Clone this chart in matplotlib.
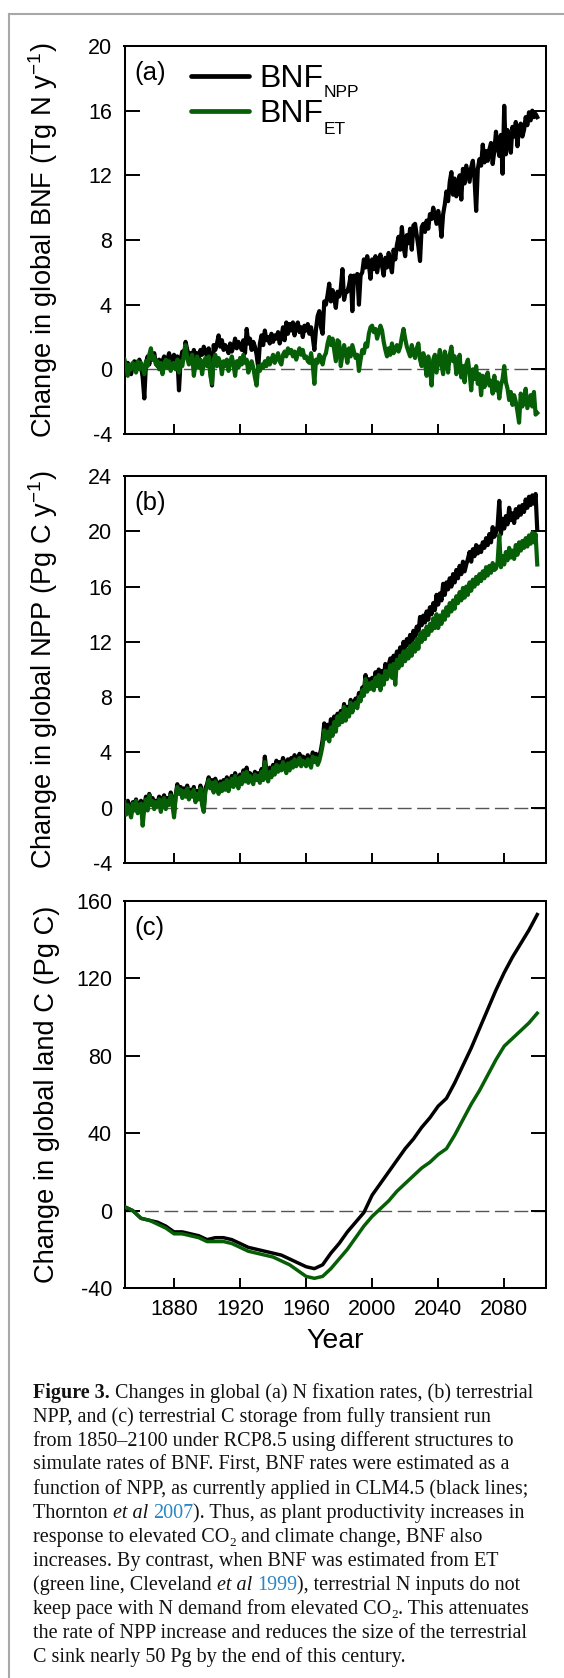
import matplotlib
matplotlib.use('Agg')
import matplotlib.pyplot as plt
from matplotlib.lines import Line2D

plt.rcParams['font.family'] = ['Liberation Sans', 'DejaVu Sans']
plt.rcParams['mathtext.fontset'] = 'custom'
plt.rcParams['mathtext.rm'] = 'Liberation Sans'
plt.rcParams['mathtext.it'] = 'Liberation Sans:italic'
plt.rcParams['mathtext.bf'] = 'Liberation Sans:bold'
plt.rcParams['axes.unicode_minus'] = False

# ---------------- data ----------------
years = list(range(1850, 2101))

bnf_npp = [
    0.3, 0.0, 0.4, 0.1, -0.3, 0.2, 0.5, 0.0, 0.3, 0.6,
    0.2, -0.5, -1.8, 0.4, 0.8, 0.3, 0.9, 0.6, 1.0, 0.4,
    0.2, 0.6, 0.3, 0.5, 0.8, 0.4, 0.6, 1.0, 0.5, 0.7,
    0.9, 0.4, 0.8, -1.3, 0.6, 1.1, 0.8, 1.7, 1.2, 0.9,
    1.0, 0.6, 1.2, 0.8, 1.0, 0.7, 1.2, 0.9, 1.4, 1.1,
    0.8, 1.3, 0.5, -1.0, 1.5, 1.2, 1.6, 2.1, 1.4, 1.8,
    1.2, 1.5, 1.3, 1.0, 1.6, 1.1, 1.4, 1.9, 1.3, 1.7,
    1.5, 1.2, 1.8, 1.0, 2.5, 1.6, 1.9, 1.2, 1.7, 1.4,
    0.9, 0.1, 1.6, 2.1, 1.5, 2.4, 1.8, 2.0, 1.6, 2.2,
    1.7, 2.1, 1.9, 2.3, 1.6, 2.0, 2.6, 1.8, 2.9, 2.2,
    2.8, 2.4, 2.9, 2.1, 2.7, 2.9, 2.3, 2.6, 2.0, 2.7,
    2.4, 2.8, 2.2, 2.6, 2.0, 1.2, 2.5, 3.3, 3.6, 2.6,
    2.2, 4.2, 4.0, 4.6, 5.3, 4.2, 4.9, 4.4, 3.8, 4.8,
    4.5, 5.0, 6.2, 4.3, 4.8, 4.8, 5.2, 5.8, 3.6, 5.8,
    5.5, 5.9, 4.0, 5.8, 6.0, 6.8, 6.3, 7.0, 6.5, 5.6,
    6.8, 6.2, 7.0, 6.0, 6.6, 7.1, 6.4, 5.8, 6.9, 6.3,
    7.2, 6.5, 6.0, 7.4, 6.8, 7.7, 8.2, 7.4, 8.8, 7.6,
    7.0, 8.3, 7.8, 8.7, 7.4, 8.9, 9.0, 8.3, 7.6, 6.7,
    8.8, 9.0, 8.5, 9.2, 8.7, 9.6, 9.3, 10.0, 9.5, 9.0,
    9.8, 9.2, 8.2, 9.6, 10.2, 11.0, 10.4, 11.6, 12.2, 10.8,
    11.8, 10.7, 11.3, 12.0, 10.5, 12.4, 11.5, 12.6, 12.1, 11.6,
    12.5, 12.9, 11.8, 9.8, 12.4, 13.0, 12.6, 13.9, 12.8, 13.5,
    12.9, 13.6, 14.0, 12.7, 13.5, 14.7, 13.8, 13.2, 14.5, 12.1,
    16.3, 13.3, 14.8, 14.2, 13.4, 15.0, 14.4, 15.3, 13.8, 15.0,
    15.2, 14.4, 14.8, 15.6, 15.1, 15.9, 15.4, 16.0, 15.6, 15.8,
    15.6,
]

bnf_et = [
    0.6, 0.2, -0.4, 0.3, 0.0, 0.4, 0.2, -0.2, 0.5, 0.0,
    0.4, 0.1, -0.3, 0.5, 0.2, 0.9, 1.3, 0.6, 0.8, 0.3,
    0.5, 0.0, 0.4, -0.3, 0.3, 0.6, 0.1, 0.5, -0.1, 0.3,
    0.4, 0.0, 0.6, -0.2, 0.5, 0.2, 0.9, 1.5, 0.7, 0.3,
    0.5, 0.9, -0.4, 0.3, 0.8, 0.1, 0.6, -0.3, 0.4, 0.7,
    0.2, 0.8, -0.4, -0.9, 0.6, 0.9, 0.2, 0.7, 0.4, -0.3,
    0.5, 0.2, 0.6, -0.1, 0.4, 0.8, 0.3, -0.4, 0.5, 0.1,
    0.7, 0.3, 0.9, 0.4, 0.6, -0.2, 0.3, 0.5, 0.1, -0.5,
    -1.0, 0.2, -0.1, 0.3, 0.1, 0.5, 0.2, 0.7, 0.3, 0.6,
    0.9, 0.4, 0.7, 1.0, 0.5, 0.3, 0.9, 1.1, 0.8, 1.3,
    1.0, 1.2, 0.8, 1.1, 0.6, 1.0, 1.3, 0.9, 1.2, 0.7,
    0.8, 0.5, 0.4, 1.0, 0.3, -0.9, 0.6, 0.4, 0.9, 0.7,
    0.3, 0.8, 1.0, 1.6, 2.0, 1.5, 1.9, 1.2, 0.5, 1.8,
    1.7, 0.2, 0.9, 1.5, 1.0, 0.4, 1.3, 0.8, 1.5, 1.1,
    0.7, 0.9, -0.1, 0.6, 1.2, 1.0, 1.6, 1.4, 2.2, 2.6,
    2.7, 2.3, 2.5, 1.9, 2.3, 2.7, 2.4, 1.7, 1.2, 0.8,
    1.3, 0.9, 1.6, 1.0, 1.2, 1.5, 1.1, 1.4, 2.0, 2.5,
    1.9, 1.4, 1.1, 0.8, 1.5, 1.0, 0.7, 1.3, 1.6, 0.6,
    0.2, 1.0, 0.4, -0.4, 0.8, 0.1, -1.0, 0.6, 0.9, -0.2,
    0.5, 1.2, 0.3, -0.3, 1.1, 0.6, -0.2, 0.9, 1.4, 0.5,
    0.8, -0.3, 0.4, 0.9, -0.5, 0.2, -0.8, 0.3, 0.6, -0.2,
    -1.3, 0.0, -0.6, 0.2, -0.9, -0.3, -1.6, -0.4, -1.1, -0.5,
    -0.2, -1.0, -0.7, -1.5, -0.4, -1.3, -0.8, -1.8, -1.0, -0.6,
    0.2, -0.8, -1.2, -1.9, -1.4, -2.2, -1.6, -2.0, -2.6, -3.3,
    -1.5, -2.3, -1.8, -1.2, -2.4, -2.0, -1.6, -2.3, -1.4, -2.8,
    -2.7,
]

npp_bnfnpp = [
    0.3, -0.3, 0.5, 0.0, -0.5, 0.4, 0.1, 0.6, -0.2, 0.3,
    0.5, -0.6, 0.2, 0.8, 0.1, 1.0, 0.4, 0.7, 0.2, 0.5,
    0.3, 0.8, 0.1, 0.6, 0.9, 0.2, 0.7, 0.4, 1.1, 0.5,
    -0.4, 0.9, 1.7, 1.2, 1.5, 0.9, 1.4, 1.0, 1.6, 0.8,
    1.3, 1.0, 1.5, 0.7, 1.2, 0.9, 1.6, 0.5, 0.0, 1.4,
    1.7, 2.2, 1.6, 2.0, 1.4, 2.1, 1.7, 1.3, 1.9, 1.5,
    2.0, 1.6, 2.2, 1.4, 1.9, 2.3, 1.7, 2.5, 2.0, 1.6,
    2.4, 2.0, 2.7, 2.2, 2.9, 2.1, 2.5, 2.3, 2.0, 2.6,
    2.2, 2.5, 2.1, 2.8, 2.3, 3.7, 2.6, 2.2, 2.9, 2.5,
    3.1, 2.7, 3.4, 2.9, 3.3, 3.0, 3.6, 3.2, 2.8, 3.5,
    3.0, 3.6, 3.2, 3.8, 3.3, 3.5, 3.9, 3.4, 3.7, 3.6,
    3.3, 3.8, 3.5, 3.2, 4.0, 3.6, 3.9, 3.4, 3.7, 4.2,
    4.9, 6.1, 5.5, 6.0, 5.3, 6.4, 5.8, 6.6, 6.0, 6.8,
    6.3, 7.0, 6.5, 7.5, 6.6, 7.3, 6.9, 7.8, 7.2, 7.6,
    7.9, 7.5, 8.3, 8.0, 8.7, 8.4, 9.6, 8.8, 9.3, 9.0,
    9.4, 8.9, 9.8, 9.2, 10.0, 9.5, 9.9, 9.4, 10.4, 9.9,
    10.3, 10.8, 10.4, 11.0, 10.6, 11.3, 10.9, 11.6, 11.1, 12.0,
    11.5, 12.2, 11.8, 12.5, 12.0, 12.8, 12.3, 13.1, 12.6, 13.8,
    13.2, 13.9, 13.4, 14.2, 13.6, 14.5, 14.0, 14.8, 14.3, 15.4,
    14.7, 15.5, 15.0, 16.2, 15.4, 16.3, 15.8, 16.6, 16.0, 16.9,
    16.3, 17.2, 16.6, 17.5, 16.9, 17.8, 17.1, 17.6, 18.0, 18.5,
    17.8, 18.7, 18.2, 19.0, 18.4, 18.9, 18.5, 19.2, 18.8, 19.5,
    19.0, 19.8, 19.2, 20.3, 19.6, 19.9, 20.4, 22.2, 19.8, 20.9,
    20.2, 21.1, 20.5, 21.7, 20.8, 21.3, 20.6, 21.6, 21.0, 21.8,
    21.2, 21.9, 21.4, 22.3, 21.7, 22.5, 21.9, 22.6, 22.0, 22.7,
    20.1,
]

npp_bnfet = [
    0.4, -0.5, 0.2, -0.3, -0.7, 0.3, -0.2, 0.5, -0.4, 0.1,
    0.3, -1.3, 0.0, 0.6, -0.2, 0.9, 0.2, 0.5, -0.1, 0.4,
    0.1, 0.6, -0.3, 0.4, 0.7, -0.1, 0.5, 0.2, 0.9, 0.3,
    -0.7, 0.8, 1.5, 1.0, 1.3, 0.7, 1.2, 0.8, 1.4, 0.6,
    1.1, 0.8, 1.3, 0.4, 1.0, 0.6, 1.4, 0.2, -0.3, 1.2,
    1.5, 2.0, 1.4, 1.8, 1.1, 1.9, 1.5, 1.0, 1.7, 1.2,
    1.8, 1.3, 2.0, 1.2, 1.7, 2.1, 1.5, 2.3, 1.8, 1.4,
    2.2, 1.7, 2.5, 1.9, 2.6, 1.8, 2.3, 2.0, 1.7, 2.4,
    2.0, 2.3, 1.8, 2.6, 2.0, 3.3, 2.3, 1.9, 2.6, 2.2,
    2.9, 2.4, 3.1, 2.6, 3.0, 2.7, 3.3, 2.9, 2.5, 3.2,
    2.7, 3.3, 2.9, 3.5, 3.0, 3.2, 3.6, 3.0, 3.4, 3.3,
    3.0, 3.5, 3.2, 2.9, 3.7, 3.3, 3.6, 3.1, 3.4, 3.9,
    4.5, 5.6, 5.0, 5.5, 4.8, 5.8, 5.2, 6.2, 5.5, 6.6,
    6.0, 6.8, 6.2, 7.3, 6.3, 7.1, 6.6, 7.6, 6.9, 7.4,
    7.6, 7.2, 8.0, 7.7, 8.5, 8.1, 9.3, 8.4, 9.0, 8.6,
    9.1, 8.5, 9.4, 8.8, 9.6, 8.5, 9.5, 8.9, 9.9, 9.3,
    9.7, 10.3, 9.4, 10.4, 8.9, 10.7, 10.1, 11.0, 10.3, 11.3,
    10.6, 11.4, 10.8, 11.7, 11.0, 11.9, 11.3, 12.2, 11.5, 12.6,
    12.0, 12.8, 12.2, 13.1, 12.5, 13.3, 12.8, 13.7, 13.0, 14.0,
    13.0, 13.9, 13.3, 14.2, 13.6, 14.5, 13.9, 14.8, 14.2, 15.0,
    14.4, 15.3, 14.8, 15.6, 15.0, 15.9, 15.2, 16.0, 15.4, 16.3,
    15.7, 16.5, 16.0, 16.7, 16.2, 16.9, 16.4, 17.1, 16.6, 17.4,
    16.8, 17.5, 17.0, 17.7, 17.2, 17.3, 17.8, 19.7, 17.4, 18.2,
    17.6, 18.5, 17.9, 18.8, 18.1, 18.6, 18.0, 19.0, 18.3, 19.2,
    18.6, 19.3, 18.8, 19.5, 18.9, 19.7, 19.1, 19.9, 19.2, 19.8,
    17.6,
]

years_c = list(range(1850, 2101, 5))
landc_bnfnpp = [
    2, 0, -4, -5, -6, -8, -11, -11, -12, -13,
    -15, -14, -14, -15, -17, -19, -20, -21, -22, -23,
    -25, -27, -29, -30, -28, -22, -17, -11, -6, -1,
    8, 14, 20, 26, 32, 37, 43, 48, 54, 58,
    66, 75, 84, 94, 104, 114, 123, 131, 138, 145, 153,
]
landc_bnfet = [
    2, 0, -4, -5, -7, -9, -12, -12, -13, -14,
    -16, -16, -16, -17, -19, -21, -22, -23, -24, -26,
    -28, -31, -34, -35, -34, -30, -25, -20, -14, -8,
    -3, 1, 5, 10, 14, 18, 22, 25, 29, 32,
    39, 47, 55, 62, 70, 78, 85, 89, 93, 97, 102,
]

xticks = [1880, 1920, 1960, 2000, 2040, 2080]
yticks_a = [-4, 0, 4, 8, 12, 16, 20]
yticks_b = [-4, 0, 4, 8, 12, 16, 20, 24]
yticks_c = [-40, 0, 40, 80, 120, 160]
ylabels = ['Change in global BNF (Tg N y$^{\\mathregular{-1}}$)',
           'Change in global NPP (Pg C y$^{\\mathregular{-1}}$)',
           'Change in global land C (Pg C)']
panel_tags = ['(a)', '(b)', '(c)']
legend_names = ['NPP', 'ET']

# ---------------- figure ----------------
W, H = 564, 1678
fig = plt.figure(figsize=(W / 100, H / 100), dpi=100)
BLACK = '#000000'
GREEN = '#065f06'
AX_L, AX_R = 124.5, 545.5


def px_axes(t, b):
    return fig.add_axes([AX_L / W, 1 - b / H, (AX_R - AX_L) / W, (b - t) / H])


ax_a = px_axes(46, 434)
ax_b = px_axes(476, 863)
ax_c = px_axes(901, 1288)
axes = [ax_a, ax_b, ax_c]

ax_a.plot(years, bnf_npp, color=BLACK, lw=3.0, solid_joinstyle='round', zorder=3)
ax_a.plot(years, bnf_et, color=GREEN, lw=3.0, solid_joinstyle='round', zorder=4)
ax_b.plot(years, npp_bnfnpp, color=BLACK, lw=3.0, solid_joinstyle='round', zorder=3)
ax_b.plot(years, npp_bnfet, color=GREEN, lw=3.0, solid_joinstyle='round', zorder=4)
ax_c.plot(years_c, landc_bnfnpp, color=BLACK, lw=2.5, zorder=3)
ax_c.plot(years_c, landc_bnfet, color=GREEN, lw=2.5, zorder=4)

for ax, yt, yl, tag in zip(axes, [yticks_a, yticks_b, yticks_c], ylabels, panel_tags):
    ax.axhline(0, color='#555555', lw=1.0, dashes=(10, 4), zorder=1)
    ax.set_xlim(1850, 2105)
    ax.set_ylim(yt[0], yt[-1])
    ax.set_yticks(yt)
    ax.set_xticks(xticks)
    ax.tick_params(axis='y', direction='in', length=11, width=1.4, right=True,
                   labelsize=15.5, pad=9)
    ax.tick_params(axis='x', direction='in', length=7.5, width=1.4, top=False,
                   labelsize=15.5, pad=8)
    for s in ax.spines.values():
        s.set_linewidth(1.45)
    ax.set_ylabel(yl, fontsize=19.6)
    ax.yaxis.set_label_coords(-0.153, 0.5)
    ax.text(0.0226, 0.912, tag, transform=ax.transAxes, fontsize=18.5,
            va='baseline', ha='left')

ax_a.tick_params(axis='x', labelbottom=False)
ax_b.tick_params(axis='x', labelbottom=False)

fig.text((AX_L + AX_R) / 2 / W, 1 - 1348 / H, 'Year', fontsize=20.5,
         ha='center', va='baseline')

renderer = fig.canvas.get_renderer()


def seg_width(s, **kw):
    t1 = fig.text(0, 0, 'X' + s + 'X', **kw)
    w1 = t1.get_window_extent(renderer).width
    t1.remove()
    t2 = fig.text(0, 0, 'XX', **kw)
    w2 = t2.get_window_extent(renderer).width
    t2.remove()
    return w1 - w2


# legend (panel a)
for (y_line, y_base, y_sub, col, sub) in [(76, 87, 97, BLACK, legend_names[0]),
                                          (111, 122, 134, GREEN, legend_names[1])]:
    fig.add_artist(Line2D([191 / W, 249 / W], [1 - y_line / H] * 2,
                          transform=fig.transFigure, color=col, lw=3.4,
                          solid_capstyle='round'))
    fig.text(259 / W, 1 - y_base / H, 'BNF', fontsize=23, va='baseline', ha='left')
    wb = seg_width('BNF', fontsize=23)
    fig.text((259 + wb + 1) / W, 1 - y_sub / H, sub, fontsize=12.5,
             va='baseline', ha='left')

# border of the figure block
fig.add_artist(Line2D([9 / W, 9 / W], [0, 1 - 14 / H], transform=fig.transFigure,
                      color='#a8a8a8', lw=1.5))
fig.add_artist(Line2D([9 / W, 1], [1 - 14 / H, 1 - 14 / H], transform=fig.transFigure,
                      color='#a8a8a8', lw=1.5))

# caption
SERIF = ['Liberation Serif', 'DejaVu Serif']
BLUE = '#2a86c4'
N = {}
B = {'weight': 'bold'}
I = {'style': 'italic'}
C = {'color': BLUE}
S = {'sub': True}
caption_lines = [
    [('Figure 3.', B), (' Changes in global (a) N fixation rates, (b) terrestrial', N)],
    [('NPP, and (c) terrestrial C storage from fully transient run', N)],
    [('from 1850\u20132100 under RCP8.5 using different structures to', N)],
    [('simulate rates of BNF. First, BNF rates were estimated as a', N)],
    [('function of NPP, as currently applied in CLM4.5 (black lines;', N)],
    [('Thornton ', N), ('et al', I), (' ', N), ('2007', C), ('). Thus, as plant productivity increases in', N)],
    [('response to elevated CO', N), ('2', S), (' and climate change, BNF also', N)],
    [('increases. By contrast, when BNF was estimated from ET', N)],
    [('(green line, Cleveland ', N), ('et al', I), (' ', N), ('1999', C), ('), terrestrial N inputs do not', N)],
    [('keep pace with N demand from elevated CO', N), ('2', S), ('. This attenuates', N)],
    [('the rate of NPP increase and reduces the size of the terrestrial', N)],
    [('C sink nearly 50 Pg by the end of this century.', N)],
]


def seg_kw(style, fs):
    kw = {'family': SERIF, 'fontsize': fs}
    if style.get('weight'):
        kw['fontweight'] = style['weight']
    if style.get('style'):
        kw['fontstyle'] = style['style']
    kw['color'] = style.get('color', '#111111')
    if style.get('sub'):
        kw['fontsize'] = fs * 0.65
    return kw


# font size fitted to the width of the first caption line (~502 px)
w10 = sum(seg_width(t, **seg_kw(st, 10)) for t, st in caption_lines[0])
fs_cap = 10 * 502 / w10

for i, line in enumerate(caption_lines):
    x = 33.0
    yb = 1398 + 24 * i
    for t, st in line:
        kw = seg_kw(st, fs_cap)
        dy = 4 if st.get('sub') else 0
        fig.text(x / W, 1 - (yb + dy) / H, t, va='baseline', ha='left', **kw)
        x += seg_width(t, **kw)

fig.savefig('out.png', dpi=100)
